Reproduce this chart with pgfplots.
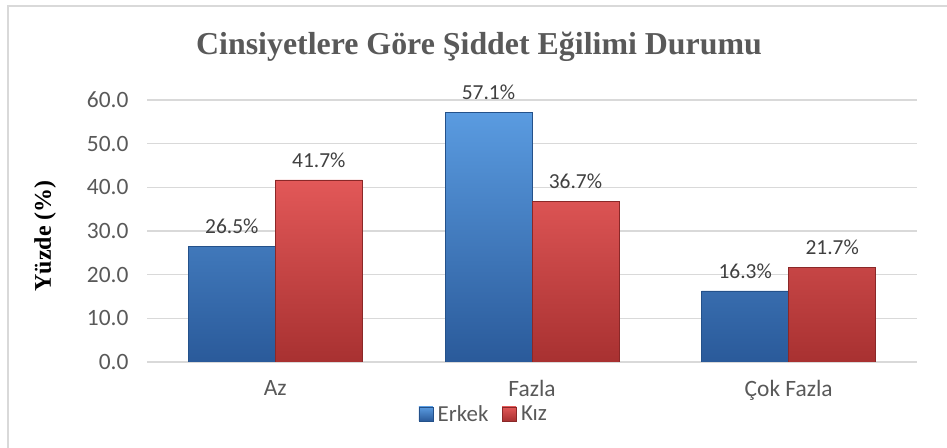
\documentclass[border=0pt]{standalone}
\usepackage{pgfplots}
\pgfplotsset{compat=1.18}
\usepackage{fontspec}
\setmainfont{Carlito}
\newfontfamily\serifbold{Liberation Serif}
\definecolor{txt}{HTML}{595959}
\definecolor{lbl}{HTML}{404040}
\definecolor{gridc}{HTML}{D9D9D9}
\definecolor{bluetop}{HTML}{5A9BE0}
\definecolor{bluemid}{HTML}{3D7CCB}
\definecolor{bluebot}{HTML}{2A5A9A}
\definecolor{blueedge}{HTML}{24518A}
\definecolor{redtop}{HTML}{E25858}
\definecolor{redmid}{HTML}{D04343}
\definecolor{redbot}{HTML}{A83131}
\definecolor{rededge}{HTML}{8A2828}
\begin{document}
\begin{tikzpicture}[x=1bp,y=1bp]
\useasboundingbox (0,0) rectangle (947,448);
\draw[gridc, line width=1.5bp] (8,-10) -- (8,442) -- (970,442);
\node[anchor=base, font=\serifbold\bfseries\fontsize{32}{36}\selectfont, text=txt] at (479,393) {Cinsiyetlere Göre Şiddet Eğilimi Durumu};
\node[rotate=90, font=\serifbold\bfseries\fontsize{24}{28}\selectfont, text=black] at (45,212) {Yüzde (\%)};
\begin{axis}[
  at={(147bp,86bp)}, anchor=south west,
  scale only axis, width=770bp, height=262bp,
  xmin=-0.5, xmax=2.5, ymin=0, ymax=60,
  ytick={0,10,...,60},
  xtick={0,1,2}, xticklabels={Az,Fazla,Çok Fazla},
  /pgf/number format/fixed, /pgf/number format/fixed zerofill, /pgf/number format/precision=1,
  /pgf/number format/assume math mode=true,
  yticklabel style={xshift=-15bp},
  xticklabel style={yshift=-15bp},
  tick label style={font=\fontsize{23.5}{27}\selectfont, text=txt},
  major tick length=0pt,
  axis line style={draw=none},
  ymajorgrids, grid style={gridc, line width=1.5bp},
  ybar=0bp, bar width=87bp,
  nodes near coords={\pgfmathprintnumber{\pgfplotspointmeta}\%},
  nodes near coords style={font=\fontsize{21.5}{25}\selectfont, text=lbl, yshift=9bp},
  legend style={at={(0.5,0)}, anchor=center, xshift=-47bp, yshift=-52bp, draw=none, fill=none,
    font=\fontsize{23}{27}\selectfont, text=txt, legend columns=2,
    nodes={inner sep=4.5bp},
    /tikz/every even column/.append style={column sep=9bp}},
  legend image code/.code={\draw[#1] (0bp,-7bp) rectangle (14bp,7bp);},
]
\addplot[top color=bluetop, middle color=bluemid, bottom color=bluebot, draw=blueedge, line width=0.6bp]
  coordinates {(0,26.5) (1,57.1) (2,16.3)};
\addplot[top color=redtop, middle color=redmid, bottom color=redbot, draw=rededge, line width=0.6bp]
  coordinates {(0,41.7) (1,36.7) (2,21.7)};
\legend{Erkek,Kız}
\end{axis}
\end{tikzpicture}
\end{document}
